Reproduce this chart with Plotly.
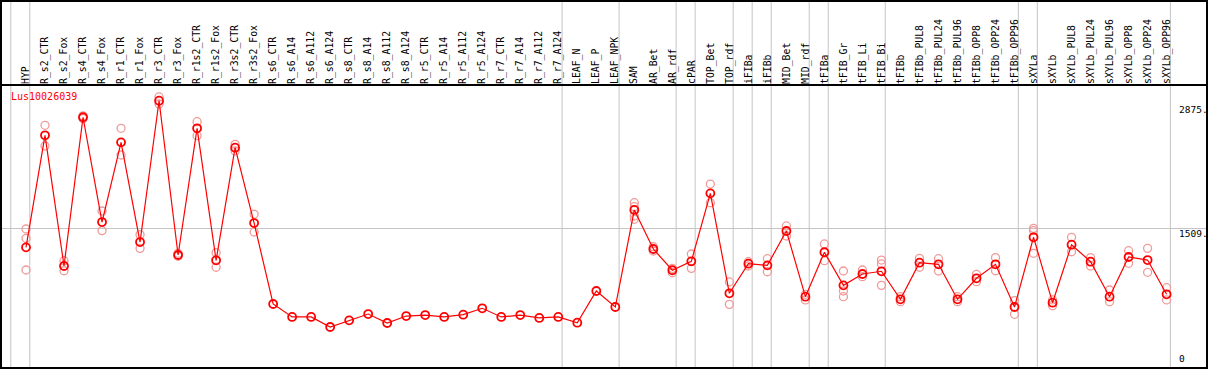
import plotly.graph_objects as go

categories = ["HYP", "R_s2_CTR", "R_s2_Fox", "R_s4_CTR", "R_s4_Fox", "R_r1_CTR", "R_r1_Fox",
              "R_r3_CTR", "R_r3_Fox", "R_r1s2_CTR", "R_r1s2_Fox", "R_r3s2_CTR", "R_r3s2_Fox",
              "R_s6_CTR", "R_s6_A14", "R_s6_A112", "R_s6_A124", "R_s8_CTR", "R_s8_A14",
              "R_s8_A112", "R_s8_A124", "R_r5_CTR", "R_r5_A14", "R_r5_A112", "R_r5_A124",
              "R_r7_CTR", "R_r7_A14", "R_r7_A112", "R_r7_A124", "LEAF_N", "LEAF_P", "LEAF_NPK",
              "SAM", "AR_Bet", "AR_rdf", "cPAR", "TOP_Bet", "TOP_rdf", "iFIBa", "iFIBb",
              "MID_Bet", "MID_rdf", "tFIBa", "tFIB_Gr", "tFIB_Li", "tFIB_Bi", "tFIBb",
              "tFIBb_PUL8", "tFIBb_PUL24", "tFIBb_PUL96", "tFIBb_OPP8", "tFIBb_OPP24",
              "tFIBb_OPP96", "sXYLa", "sXYLb", "sXYLb_PUL8", "sXYLb_PUL24", "sXYLb_PUL96",
              "sXYLb_OPP8", "sXYLb_OPP24", "sXYLb_OPP96"]

means = [1301, 2527, 1097, 2725, 1578, 2450, 1359, 2906, 1217, 2604, 1159, 2392, 1567,
         681, 539, 539, 429, 502, 571, 473, 549, 560, 539, 564, 634, 539, 560, 528, 539,
         476, 823, 648, 1710, 1283, 1050, 1148, 1892, 798, 1122, 1104, 1480, 761, 1247,
         885, 1009, 1039, 732, 1133, 1115, 732, 962, 1115, 648, 1411, 695, 1330, 1144,
         761, 1195, 1162, 787]

replicates = [[1502, 1400, 1053], [2637, 2410], [1155, 1045], [2740, 2710], [1699, 1484],
              [2604, 2312], [1440, 1290], [2947, 2870], [1236, 1203], [2676, 2523],
              [1243, 1083], [2429, 2356], [1663, 1469],
              [], [], [], [], [], [], [], [], [], [], [], [], [], [], [], [], [], [], [],
              [1790, 1746, 1644, 1608], [1308, 1261], [1071, 1023], [1228, 1071],
              [1994, 1790], [922, 677], [1144, 1097], [1177, 1034], [1535, 1425],
              [787, 725], [1338, 1155], [1042, 823, 761], [1053, 980], [1162, 1119, 885],
              [761, 706], [1181, 1083], [1177, 1042], [761, 706], [1006, 925], [1188, 1045],
              [717, 568], [1509, 1484, 1236], [725, 662], [1411, 1253], [1188, 1097],
              [834, 706], [1264, 1126], [1290, 1028], [859, 725]]

# group separators: drawn just after these category indices
separators_after = [-1, 0, 28, 31, 34, 35, 37, 38, 39, 41, 42, 45, 52, 53, 60]
ytick_vals = [2875, 1509, 0]
ytick_text = ["2875.", "1509.", "0"]
gene = "Lus10026039"

rep_x, rep_y = [], []
for c, reps in zip(categories, replicates):
    for r in reps:
        rep_x.append(c)
        rep_y.append(r)

W, H = 1209, 370
ml, mr, mt, mb = 1, 2, 85, 2
pw, ph = W - ml - mr, H - mt - mb

def px_x(p):
    return (p - ml) / pw

def px_y(p):
    return (H - mb - p) / ph

mono = "DejaVu Sans Mono"

fig = go.Figure()
fig.add_trace(go.Scatter(x=rep_x, y=rep_y, mode="markers",
                         marker=dict(symbol="circle-open", size=8, color="#f09a9a",
                                     line=dict(width=1.3, color="#f09a9a")),
                         hoverinfo="y", showlegend=False))
fig.add_trace(go.Scatter(x=categories, y=means, mode="lines+markers",
                         line=dict(color="#ff0000", width=1.2),
                         marker=dict(symbol="circle-open", size=8, color="#ff0000",
                                     line=dict(width=1.8, color="#ff0000")),
                         showlegend=False))

shapes = []
for i in separators_after:
    shapes.append(dict(type="line", xref="x", yref="paper", x0=i + 0.2, x1=i + 0.2,
                       y0=0, y1=px_y(0), line=dict(color="#c4c4c4", width=1), layer="below"))
# outer border and header separator
shapes.append(dict(type="rect", xref="paper", yref="paper", x0=px_x(1), x1=px_x(1207),
                   y0=px_y(368), y1=px_y(1), line=dict(color="black", width=2)))
shapes.append(dict(type="line", xref="paper", yref="paper", x0=px_x(1), x1=px_x(1207),
                   y0=1, y1=1, line=dict(color="black", width=2)))

annotations = [dict(text=gene, xref="paper", yref="paper", x=px_x(9), y=px_y(97),
                    xanchor="left", yanchor="middle", showarrow=False,
                    font=dict(family=mono, size=10, color="#ff0000"))]
for v, t in zip(ytick_vals, ytick_text):
    annotations.append(dict(text=t, xref="paper", yref="y", x=px_x(1177), y=v,
                            xanchor="left", yanchor="bottom" if v == 0 else "top",
                            showarrow=False, yshift=0 if v == 0 else 2,
                            font=dict(family=mono, size=9.5, color="black")))

x_lo = (1 - 26) / 19.01
x_hi = (1207 - 26) / 19.01
y_px_per = 0.09136
y_lo = -(368 - 366.2) / y_px_per
y_hi = (366.2 - 85) / y_px_per

fig.update_layout(
    template="none",
    width=W, height=H,
    margin=dict(l=ml, r=mr, t=mt, b=mb, pad=0),
    paper_bgcolor="white", plot_bgcolor="white",
    shapes=shapes, annotations=annotations,
    xaxis=dict(type="category", categoryorder="array", categoryarray=categories,
               range=[x_lo, x_hi], side="top", tickangle=-90, ticks="",
               tickfont=dict(family=mono, size=9.8, color="black"),
               showgrid=False, zeroline=False, showline=False, automargin=False,
               fixedrange=True),
    yaxis=dict(range=[y_lo, y_hi], tickvals=[1509], showticklabels=False, ticks="",
               showgrid=True, gridcolor="#c4c4c4", gridwidth=1, zeroline=False,
               showline=False, automargin=False, fixedrange=True),
    showlegend=False,
)

fig.write_html("out.html", config={"displayModeBar": False},
               post_script="document.body.style.margin='0';document.body.style.padding='0';"
                           "document.body.style.overflow='hidden';")
